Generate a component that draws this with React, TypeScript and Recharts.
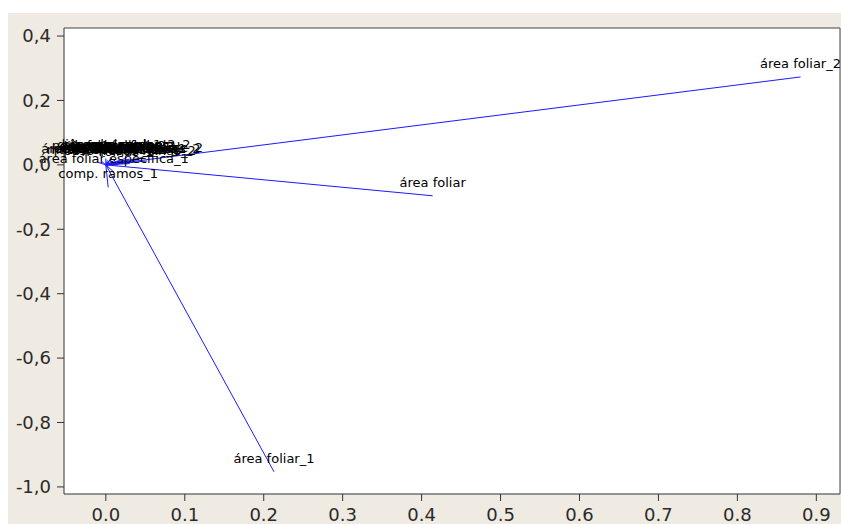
import { ScatterChart, Scatter, XAxis, YAxis, CartesianGrid, ReferenceLine } from "recharts";

// vector loadings (x = PC1, y = PC2)
const mainNames = ["área foliar_2", "área foliar", "área foliar_1"];
const mainX = [0.88, 0.414, 0.213];
const mainY = [0.273, -0.096, -0.953];

// short vectors clustered near the origin
const clusterNames = [
  "altura planta",
  "altura planta_1",
  "altura planta_2",
  "nº folhas",
  "nº folhas_1",
  "nº folhas_2",
  "nº ramos",
  "nº ramos_1",
  "nº ramos_2",
  "diâmetro caule",
  "diâmetro caule_1",
  "diâmetro caule_2",
  "peso fresco folhas",
  "peso fresco folhas_1",
  "peso fresco folhas_2",
  "massa seca folhas",
  "massa seca folhas_1",
  "massa seca folhas_2",
  "comp. ramos",
  "comp. ramos_2",
  "área foliar específica",
  "área foliar específica_1",
  "comp. ramos_1",
];
const clusterX = [
  -0.01, 0.008, 0.045, -0.005, 0.015, 0.03, 0.002, 0.022, 0.04, 0.0, 0.012, 0.052,
  0.006, 0.018, 0.03, 0.02, 0.01, 0.035, 0.005, 0.025, 0.004, 0.01, 0.003,
];
const clusterY = [
  0.008, 0.022, 0.022, 0.01, 0.0, 0.018, 0.014, 0.006, 0.016, 0.02, 0.015, 0.012,
  0.018, 0.01, 0.004, 0.012, 0.005, 0.008, 0.015, 0.02, 0.01, -0.022, -0.07,
];

const xTicks = [0, 0.1, 0.2, 0.3, 0.4, 0.5, 0.6, 0.7, 0.8, 0.9];
const yTicks = [0.4, 0.2, 0, -0.2, -0.4, -0.6, -0.8, -1.0];

const X_MIN = -0.053;
const X_MAX = 0.93;
const Y_MIN = -1.022;
const Y_MAX = 0.425;

const font = "'DejaVu Sans', Tahoma, sans-serif";

type Pt = { x: number; y: number; label: string };

const vectors: Pt[][] = [
  ...mainNames.map((n, i) => [
    { x: 0, y: 0, label: "" },
    { x: mainX[i], y: mainY[i], label: n },
  ]),
  ...clusterNames.map((n, i) => [
    { x: 0, y: 0, label: "" },
    { x: clusterX[i], y: clusterY[i], label: n },
  ]),
];

const VectorEnd = (props: any) => {
  const { cx, cy, payload } = props;
  if (!payload || !payload.label) return <g />;
  return (
    <text x={cx} y={cy - 9} textAnchor="middle" fontSize={13} fontFamily={font} fill="#000">
      {payload.label}
    </text>
  );
};

const tickStyle = { fill: "#2a2a2a", fontSize: 18, fontFamily: font };

export default function App() {
  return (
    <div
      style={{
        position: "absolute",
        left: 8,
        top: 13,
        width: 833,
        height: 511,
        background: "#efebe2",
      }}
    >
      <ScatterChart width={833} height={511} margin={{ top: 15, right: 1, left: 0, bottom: 0 }}>
        <CartesianGrid horizontal={false} vertical={false} fill="#ffffff" fillOpacity={1} />
        <XAxis
          type="number"
          dataKey="x"
          domain={[X_MIN, X_MAX]}
          ticks={xTicks}
          tickFormatter={(v: number) => v.toFixed(1)}
          height={30}
          tickSize={7}
          tickMargin={7}
          stroke="#333"
          tick={tickStyle}
          interval={0}
        />
        <YAxis
          type="number"
          dataKey="y"
          domain={[Y_MIN, Y_MAX]}
          ticks={yTicks}
          tickFormatter={(v: number) => v.toFixed(1).replace(".", ",")}
          width={56}
          tickSize={7}
          tickMargin={6}
          stroke="#333"
          tick={tickStyle}
          interval={0}
        />
        <ReferenceLine y={Y_MAX} stroke="#444" ifOverflow="extendDomain" />
        <ReferenceLine x={X_MAX} stroke="#444" ifOverflow="extendDomain" />
        {vectors.map((d, i) => (
          <Scatter
            key={i}
            data={d}
            line={{ stroke: "#1a1aff", strokeWidth: 1 }}
            shape={VectorEnd}
            isAnimationActive={false}
          />
        ))}
      </ScatterChart>
    </div>
  );
}
